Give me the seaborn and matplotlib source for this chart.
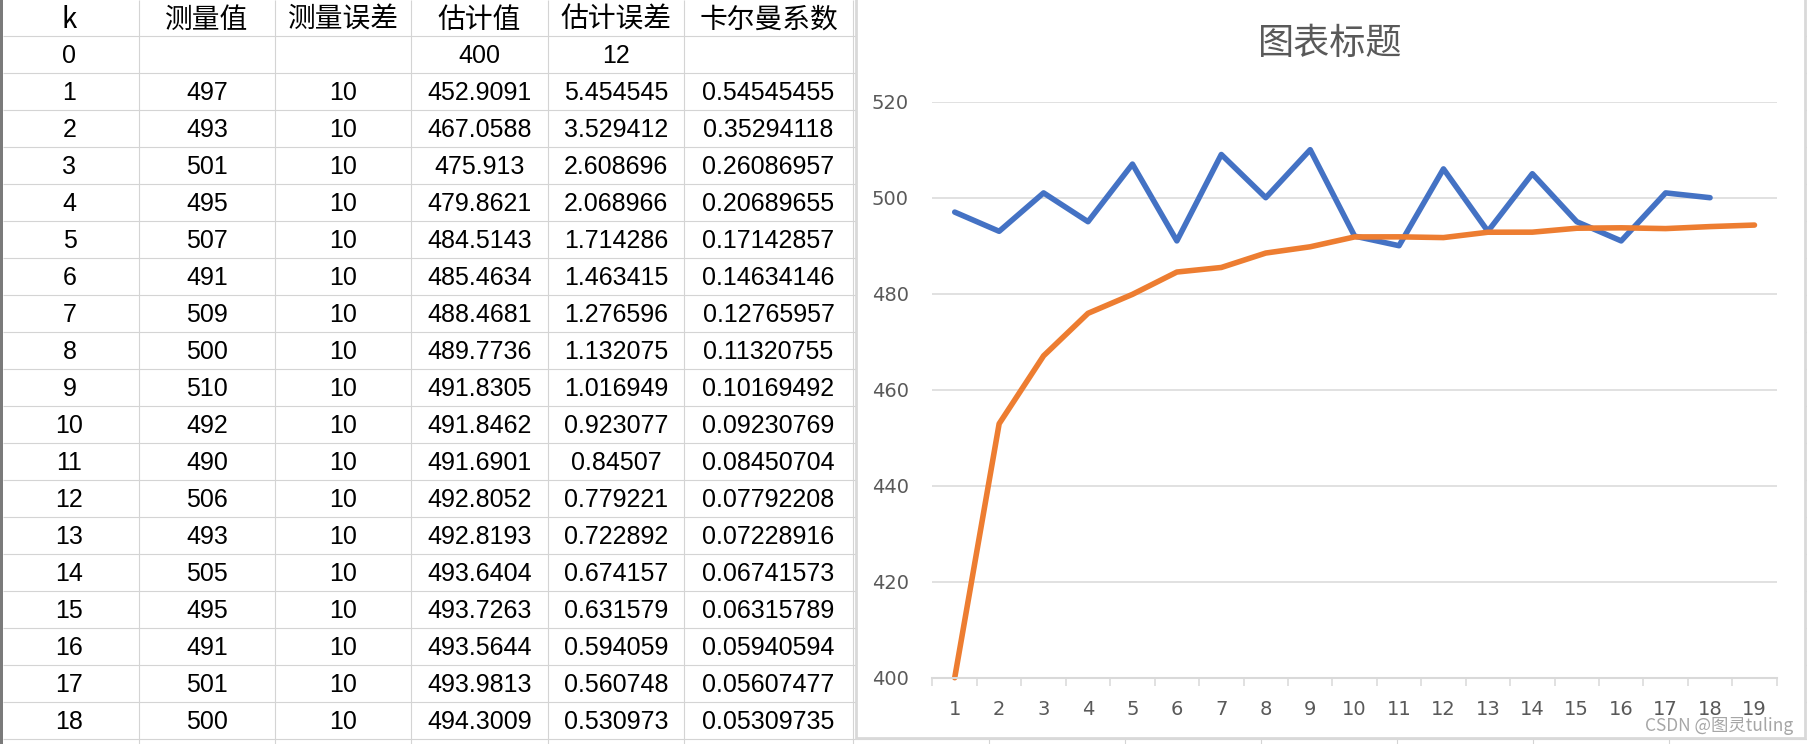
import matplotlib
matplotlib.use("Agg")
import matplotlib.pyplot as plt
import seaborn as sns
import pandas as pd
import numpy as np
from matplotlib.patches import Rectangle

# ---------------- data ----------------
headers = ["k", "测量值", "测量误差", "估计值", "估计误差", "卡尔曼系数"]
k_values = [0, 1, 2, 3, 4, 5, 6, 7, 8, 9, 10, 11, 12, 13, 14, 15, 16, 17, 18]
measured = [497, 493, 501, 495, 507, 491, 509, 500, 510, 492, 490, 506, 493, 505, 495, 491, 501, 500]
meas_error = [10, 10, 10, 10, 10, 10, 10, 10, 10, 10, 10, 10, 10, 10, 10, 10, 10, 10]
estimates = [400, 452.9091, 467.0588, 475.913, 479.8621, 484.5143, 485.4634, 488.4681, 489.7736,
             491.8305, 491.8462, 491.6901, 492.8052, 492.8193, 493.6404, 493.7263, 493.5644,
             493.9813, 494.3009]
est_error = [12, 5.454545, 3.529412, 2.608696, 2.068966, 1.714286, 1.463415, 1.276596, 1.132075,
             1.016949, 0.923077, 0.84507, 0.779221, 0.722892, 0.674157, 0.631579, 0.594059,
             0.560748, 0.530973]
kalman_gain = [0.54545455, 0.35294118, 0.26086957, 0.20689655, 0.17142857, 0.14634146,
               0.12765957, 0.11320755, 0.10169492, 0.09230769, 0.08450704, 0.07792208,
               0.07228916, 0.06741573, 0.06315789, 0.05940594, 0.05607477, 0.05309735]
x_labels = ["1", "2", "3", "4", "5", "6", "7", "8", "9", "10", "11", "12", "13", "14",
            "15", "16", "17", "18", "19"]
y_ticks = [400, 420, 440, 460, 480, 500, 520]
chart_title = "图表标题"
series_names = ["测量值", "估计值"]
watermark = "CSDN @图灵tuling"

# ---------------- style ----------------
sns.set_theme(style="white")
plt.rcParams["font.family"] = ["DejaVu Sans", "Noto Sans CJK SC"]

W, H = 1808, 744
fig = plt.figure(figsize=(W / 100, H / 100), dpi=100)
fig.patch.set_facecolor("white")

bg = fig.add_axes([0, 0, 1, 1])
bg.set_xlim(0, W)
bg.set_ylim(H, 0)
bg.axis("off")

grid_c = "#d4d4d4"
row_h = 37.0
hdr_h = 36.0
col_edges = [139, 275, 411, 548, 684, 853, 989, 1125, 1261, 1397, 1533, 1669]
col_centers = [69.5, 207, 343, 479.5, 616, 768.5]

# spreadsheet grid
for n in range(len(k_values) + 1):
    y = hdr_h + n * row_h
    bg.plot([3, W], [y, y], color=grid_c, lw=0.8, solid_capstyle="butt", zorder=1)
for x in col_edges:
    bg.plot([x, x], [0, H], color=grid_c, lw=0.8, solid_capstyle="butt", zorder=1)
bg.add_patch(Rectangle((0, 0), 3, H, facecolor="#7a7a7a", edgecolor="none", zorder=2))

# table text
hdr_font = dict(family=["Noto Sans CJK SC"], fontsize=20, color="black", ha="center", va="center")
cell_font = dict(family=["Liberation Sans", "Noto Sans CJK SC"], fontsize=18, color="black",
                 ha="center", va="center")
for c, h in enumerate(headers):
    bg.text(col_centers[c], 20, h, zorder=3, **hdr_font)


def fmt(v):
    return "" if v is None else str(v)


for r, k in enumerate(k_values):
    yc = hdr_h + r * row_h + row_h / 2 + 1.5
    row = [k,
           measured[r - 1] if r > 0 else None,
           meas_error[r - 1] if r > 0 else None,
           estimates[r],
           est_error[r],
           kalman_gain[r - 1] if r > 0 else None]
    for c, v in enumerate(row):
        bg.text(col_centers[c], yc, fmt(v), zorder=3, **cell_font)

# chart area frame
bg.add_patch(Rectangle((856, -10), 1805 - 856, 738 + 10, facecolor="white",
                       edgecolor="#d9d9d9", lw=2.0, zorder=5))
bg.text(1330.5, 44, chart_title, family=["Noto Sans CJK SC"], fontsize=26, color="#595959",
        ha="center", va="center", zorder=6)
bg.text(1793, 726, watermark, family=["Noto Sans CJK SC", "DejaVu Sans"], fontsize=12.5,
        color="#a6a6a6", ha="right", va="center", zorder=6)

# ---------------- chart ----------------
left, right, top, bottom = 932.5, 1776.7, 101.7, 677.7
ax = fig.add_axes([left / W, (H - bottom) / H, (right - left) / W, (bottom - top) / H])
ax.patch.set_alpha(0)

xpos = np.arange(1, len(x_labels) + 1)
df = pd.DataFrame({
    "x": list(xpos[:len(measured)]) + list(xpos[:len(estimates)]),
    "value": measured + estimates,
    "series": [series_names[0]] * len(measured) + [series_names[1]] * len(estimates),
})
sns.lineplot(data=df, x="x", y="value", hue="series", hue_order=series_names,
             palette={series_names[0]: "#4472C4", series_names[1]: "#ED7D31"},
             linewidth=4, legend=False, sort=False, ax=ax, errorbar=None)
for ln in ax.lines:
    ln.set_clip_on(False)
    ln.set_solid_capstyle("round")
    ln.set_solid_joinstyle("round")

ax.set_xlim(0.5, len(x_labels) + 0.5)
ax.set_ylim(y_ticks[0], y_ticks[-1])
ax.set_xlabel("")
ax.set_ylabel("")
ax.set_xticks(xpos)
ax.set_xticklabels(x_labels)
ax.set_xticks(np.arange(0.5, len(x_labels) + 1), minor=True)
ax.set_yticks(y_ticks)
ax.set_yticklabels([str(v) for v in y_ticks])
ax.yaxis.grid(True, color="#d9d9d9", lw=1.1)
ax.xaxis.grid(False)
ax.set_axisbelow(True)
for s in ["left", "right", "top"]:
    ax.spines[s].set_visible(False)
ax.spines["bottom"].set_color("#d9d9d9")
ax.spines["bottom"].set_linewidth(1.5)
ax.tick_params(axis="x", which="major", length=0, pad=16, labelsize=14, labelcolor="#595959")
ax.tick_params(axis="x", which="minor", length=6, width=1.1, color="#d9d9d9", direction="out",
               bottom=True)
ax.tick_params(axis="y", length=0, pad=17, labelsize=14, labelcolor="#595959")

fig.savefig("out.png", dpi=100, facecolor="white")
